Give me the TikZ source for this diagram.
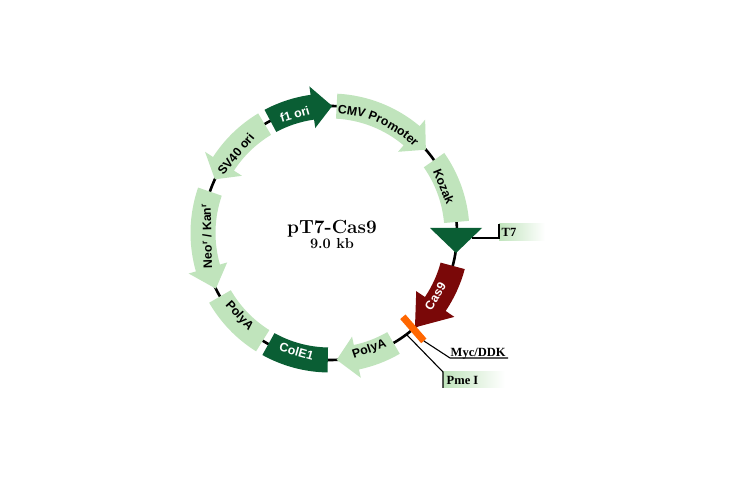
\documentclass[tikz,border=0pt]{standalone}
\usepackage{fontspec}
\newfontfamily\labfont{Liberation Sans}
\newfontfamily\tagfont{Liberation Serif}
\usetikzlibrary{decorations.text}
\definecolor{lgreen}{RGB}{192,228,188}
\definecolor{dgreen}{RGB}{10,94,52}
\definecolor{cmaroon}{RGB}{122,8,8}
\definecolor{corange}{RGB}{255,102,0}
\def\rad{127}
\def\radO{139.5}
\def\radI{114.5}
% clockwise arrow: colour, start angle, tip angle, head length (deg), head half-width
\newcommand\cwarrow[5]{%
  \pgfmathsetmacro\fhb{#3+#4}%
  \pgfmathsetmacro\fho{\rad+#5}%
  \pgfmathsetmacro\fhi{\rad-#5}%
  \fill[#1] (#2:\radO) arc[start angle=#2, end angle=\fhb, radius=\radO]
    -- (\fhb:\fho) -- (#3:\rad) -- (\fhb:\fhi) -- (\fhb:\radI)
    arc[start angle=\fhb, end angle=#2, radius=\radI] -- cycle;}
% counter-clockwise arrow
\newcommand\ccwarrow[5]{%
  \pgfmathsetmacro\fhb{#3-#4}%
  \pgfmathsetmacro\fho{\rad+#5}%
  \pgfmathsetmacro\fhi{\rad-#5}%
  \fill[#1] (#2:\radO) arc[start angle=#2, end angle=\fhb, radius=\radO]
    -- (\fhb:\fho) -- (#3:\rad) -- (\fhb:\fhi) -- (\fhb:\radI)
    arc[start angle=\fhb, end angle=#2, radius=\radI] -- cycle;}
% box along the circle
\newcommand\arcbox[3]{%
  \fill[#1] (#2:\radO) arc[start angle=#2, end angle=#3, radius=\radO]
    -- (#3:\radI) arc[start angle=#3, end angle=#2, radius=\radI] -- cycle;}
\begin{document}
\begin{tikzpicture}[x=1pt,y=1pt,
  feat/.style={font=\labfont\bfseries\fontsize{12.3}{14}\selectfont, inner sep=0pt},
  featw/.style={feat, text=white},
  tag/.style={font=\tagfont\bfseries\fontsize{12.5}{14}\selectfont, inner sep=0pt},
  leader/.style={line width=1.1pt}]
\useasboundingbox (0,0) rectangle (730,478);
\fill[white] (0,0) rectangle (730,478);

\begin{scope}[shift={(330,245)}]
  \draw[line width=2.6pt] (0,0) circle[radius=127];
  \cwarrow{dgreen}{118}{89}{9}{21}
  \cwarrow{lgreen}{87}{41}{9}{21}
  \arcbox{lgreen}{35}{5}
  \cwarrow{cmaroon}{-15}{-48}{14}{23}
  \cwarrow{lgreen}{-60}{-87}{9}{21}
  \arcbox{dgreen}{-91}{-119}
  \arcbox{lgreen}{-122}{-150}
  \ccwarrow{lgreen}{161}{206}{10}{20}
  \ccwarrow{lgreen}{121}{155}{8}{22}
  \draw[corange, line width=7pt] (-49:111) -- (-49:143);
  \coordinate (mycend) at (-49:143);
  \coordinate (pmestart) at (-53:127);

  \node[featw, rotate=16.5] (lf1) at (106.5:124) {f1 ori};
  \path[decorate, decoration={text along path, text align=center,
     text format delimiters={|}{|},
     text={|\labfont\bfseries\fontsize{12.3}{14}\selectfont|CMV Promoter}}]
     (90:120) arc[start angle=90, end angle=42, radius=120];
  \node[feat, rotate=-67.7] (lkoz) at (22.3:123) {Kozak};
  \node[featw, rotate=59] (lcas) at (-31:123) {Cas9};
  \node[feat, rotate=18.7] (lpa1) at (-71.3:123) {PolyA};
  \node[featw, rotate=-15.8] (lcol) at (-105.8:123) {ColE1};
  \node[feat, rotate=-47.6] (lpa2) at (-137.6:123) {PolyA};
  \node[feat, rotate=91.4] (lneo) at (181.4:123) {Neo\textsuperscript{r} / Kan\textsuperscript{r}};
  \node[feat, rotate=50] (lsv) at (140:123) {SV40 ori};
\end{scope}

% T7 promoter triangle
\fill[dgreen] (430,250) -- (482,250) -- (456,225) -- cycle;
\coordinate (t7side) at (472,240);
\coordinate (t7knee) at (499,240);
\coordinate (t7top) at (499,254);
\shade[left color=lgreen, right color=white] (499,237) rectangle (545,254);
\draw[leader] (t7side) -- (t7knee) -- (t7top);
\node[tag, anchor=west] (lt7) at (501.5,245.5) {T7};

% Myc/DDK
\coordinate (myckne) at (450,120);
\coordinate (mycend2) at (508,120);
\draw[leader] (mycend) -- (myckne) -- (mycend2);
\node[tag, anchor=base west] (lmyc) at (450.5,121.5) {Myc/DDK};

% Pme I
\coordinate (pmekne) at (443,106);
\coordinate (pmebot) at (443,90);
\shade[left color=lgreen, right color=white] (443,90) rectangle (505,106);
\draw[leader] (pmestart) -- (pmekne) -- (pmebot);
\node[tag, anchor=west] (lpme) at (446.5,98) {Pme I};

% title
\node[font=\bfseries\fontsize{19}{22}\selectfont] (title) at (332,249.5) {pT7-Cas9};
\node[font=\bfseries\fontsize{14.5}{16}\selectfont] (size) at (332,234.7) {9.0 kb};
\end{tikzpicture}
\end{document}
